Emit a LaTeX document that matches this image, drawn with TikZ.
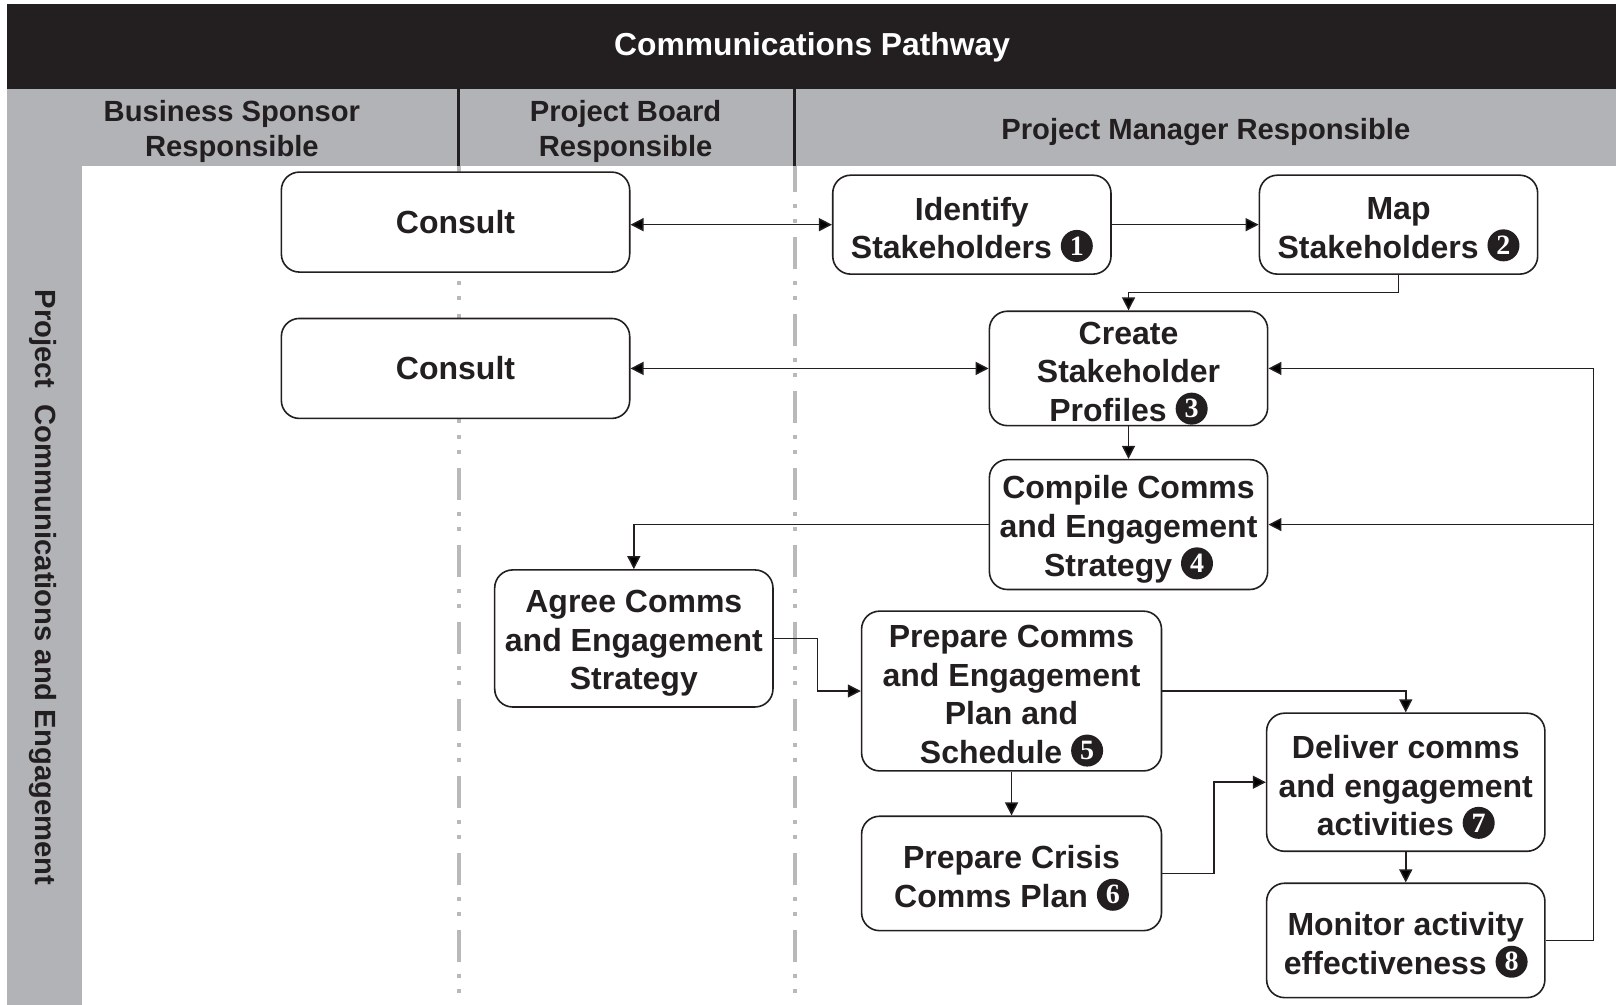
\documentclass[tikz,border=0pt]{standalone}
\usepackage{fontspec}
\setmainfont{Liberation Sans}
\newfontfamily\numfont{Liberation Serif}
\usetikzlibrary{arrows.meta,calc}
\definecolor{ink}{HTML}{231F20}
\definecolor{band}{HTML}{B1B3B6}
\definecolor{laneline}{HTML}{B9B9B9}
% black disc with a white step number, set inline in the box text
\newcommand\cnum[1]{\tikz[baseline={([yshift=-1.8pt]c.base)}]\node[circle,fill=ink,draw=none,text=white,inner sep=0pt,minimum size=16pt,font=\numfont\fontsize{14}{14}\selectfont](c){#1};}
\begin{document}
\begin{tikzpicture}[x=0.5153pt,y=-0.5153pt,
  box/.style={draw=ink, fill=white, line width=0.8pt, rounded corners=9pt, align=center, inner sep=0pt, text=ink,
    font=\bfseries\fontsize{16}{19.3}\selectfont},
  boxtext/.style={align=center, inner sep=0pt, text=ink, font=\bfseries\fontsize{16}{19.3}\selectfont},
  sz/.style 2 args={minimum width=#1*0.5153pt, minimum height=#2*0.5153pt},
  arr/.style={draw=ink, line width=0.75pt, -{Triangle[length=6.5pt,width=6.5pt]}},
  darr/.style={draw=ink, line width=0.75pt, {Triangle[length=6.5pt,width=6.5pt]}-{Triangle[length=6.5pt,width=6.5pt]}},
  lane/.style={draw=laneline, line width=2pt, dash pattern=on 16pt off 6pt on 2pt off 5.5pt on 2pt off 7pt, dash phase=3pt},
  divider/.style={draw=ink, line width=1.5pt},
  head/.style={text=ink, align=center, font=\bfseries\fontsize{14.6}{17.5}\selectfont}]
\useasboundingbox (0,0) rectangle (1568,975);

% title bar and swimlane headers
\fill[ink] (7,4) rectangle (1568,86);
\node[text=white, font=\bfseries\fontsize{15.9}{19}\selectfont] (title) at (788,46) {Communications Pathway};
\fill[band] (7,86) rectangle (1568,161);
\fill[band] (7,161) rectangle (80,975);

\draw[lane] (445,161) -- (445,975);
\draw[lane] (771,161) -- (771,975);
\draw[divider] (445,86) -- (445,161);
\draw[divider] (771,86) -- (771,161);

\node[head] (hBS) at (225,128) {Business Sponsor\\Responsible};
\node[head] (hPB) at (607,128) {Project Board\\Responsible};
\node[head] (hPM) at (1170,128) {Project Manager Responsible};
\node[head, rotate=-90] (hRow) at (42,570) {Project\ \ Communications and Engagement};

% process steps: frames
\node[box, sz={338}{97}] (consultA) at (442,215.5) {Consult};
\node[box, sz={338}{97}] (consultB) at (442,357.5) {Consult};
\node[box, sz={270}{96}] (identify) at (943,218) {};
\node[box, sz={270}{96}] (map) at (1357,218) {};
\node[box, sz={270}{111}] (create) at (1095,357.5) {};
\node[box, sz={270}{126}] (compile) at (1095,509) {};
\node[box, sz={270}{133}] (agree) at (615,619.5) {};
\node[box, sz={291}{155}] (prepare) at (981.5,670.5) {};
\node[box, sz={291}{111}] (crisis) at (981.5,847.5) {};
\node[box, sz={270}{134}] (deliver) at (1364,759) {};
\node[box, sz={270}{111}] (monitor) at (1364,912.5) {};

% process steps: labels
\node[boxtext] (tIdentify) at ([yshift=-2.4pt]identify.center) {Identify\\Stakeholders \cnum{1}};
\node[boxtext] (tMap) at ([yshift=-2.4pt]map.center) {Map\\Stakeholders \cnum{2}};
\node[boxtext] (tCreate) at ([yshift=-2.4pt]create.center) {Create\\Stakeholder\\Profiles \cnum{3}};
\node[boxtext] (tCompile) at ([yshift=-2.4pt]compile.center) {Compile Comms\\and Engagement\\Strategy \cnum{4}};
\node[boxtext] (tAgree) at ([yshift=-2.4pt]agree.center) {Agree Comms\\and Engagement\\Strategy};
\node[boxtext] (tPrepare) at ([yshift=-2.4pt]prepare.center) {Prepare Comms\\and Engagement\\Plan and\\Schedule \cnum{5}};
\node[boxtext] (tCrisis) at ([yshift=-2.4pt]crisis.center) {Prepare Crisis\\Comms Plan \cnum{6}};
\node[boxtext] (tDeliver) at ([yshift=-2.4pt]deliver.center) {Deliver comms\\and engagement\\activities \cnum{7}};
\node[boxtext] (tMonitor) at ([yshift=-2.4pt]monitor.center) {Monitor activity\\effectiveness \cnum{8}};

% routing points for the elbow connectors
\coordinate (jMap) at (0,284);
\coordinate (jAgree) at (793,0);
\coordinate (jCrisis) at (1178,0);
\coordinate (jLoop) at (1546,0);

% connectors
\draw[darr] (consultA.east |- identify.west) -- (identify.west);
\draw[arr] (identify) -- (map);
\draw[arr] (map.south) -- (map.south |- jMap) -| (create.north);
\draw[darr] (consultB.east) -- (create.west);
\draw[arr] (create) -- (compile);
\draw[arr] (compile.west) -| (agree.north);
\draw[arr] (agree.east) -- (agree.east -| jAgree) |- (prepare.west);
\draw[arr] (prepare.east) -| (deliver.north);
\draw[arr] (prepare) -- (crisis);
\draw[arr] (crisis.east) -- (crisis.east -| jCrisis) |- (deliver.west);
\draw[arr] (deliver) -- (monitor);
\draw[arr] (monitor.east) -- (monitor.east -| jLoop) |- (create.east);
\draw[arr] (jLoop |- compile.east) -- (compile.east);
\end{tikzpicture}
\end{document}
